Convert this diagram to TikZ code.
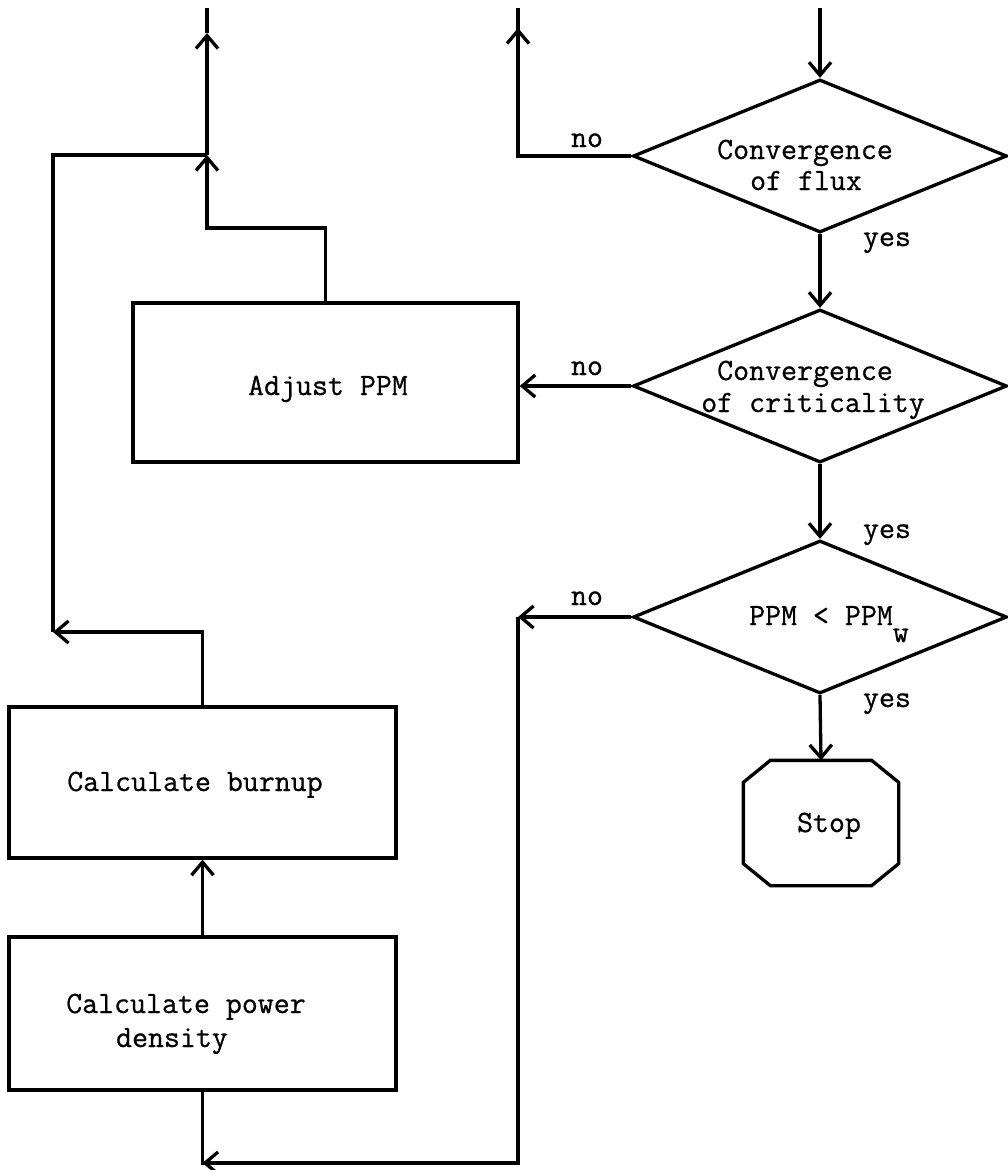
\documentclass[tikz,border=0pt]{standalone}
\usepackage{fontspec}
\setmonofont{Latin Modern Mono}[FakeBold=0.7]
\usetikzlibrary{arrows.meta,calc,shapes.geometric}
\begin{document}
\begin{tikzpicture}[x=1pt,y=-1pt, line width=3.3pt, line join=miter,
  every node/.style={font=\fontsize{31}{34}\selectfont\ttfamily},
  arr/.style={-{Straight Barb[length=13pt,width=22pt]}},
  box/.style={draw, rectangle, inner sep=0pt},
  dia/.style={draw, diamond, minimum width=374pt, minimum height=153pt, inner sep=0pt},
  lab/.style={anchor=base, inner sep=0pt}]
\useasboundingbox (0,0) rectangle (1008,1170);

% decision diamonds
\node[dia] (d1) at (820,156) {};
\node[dia] (d2) at (820,386) {};
\node[dia] (d3) at (820,617) {};
\node[lab] (d1a) at (805,159) {Convergence};
\node[lab] (d1b) at (806,190) {of flux};
\node[lab] (d2a) at (805,380) {Convergence};
\node[lab] (d2b) at (813,412) {of criticality};
\node[lab] (d3a) at (829,625) {PPM < PPM\raisebox{-17pt}{w}};

% process boxes
\node[box, minimum width=385pt, minimum height=159pt] (adj) at (325.5,382.5) {};
\node[lab] (adjt) at (328,395) {Adjust PPM};
\node[box, minimum width=387pt, minimum height=151pt] (burn) at (202.5,782.5) {};
\node[lab] (burnt) at (195,791) {Calculate burnup};
\node[box, minimum width=387pt, minimum height=153pt] (pow) at (202.5,1013.5) {};
\node[lab] (powa) at (186,1013) {Calculate power};
\node[lab] (powb) at (172,1047) {density};

% stop terminal
\node[minimum width=152pt, minimum height=122pt, inner sep=0pt] (stop) at (821,823) {};
\draw ($(stop.north west)+(27,0)$) -- ($(stop.north east)+(-27,0)$)
  -- ($(stop.north east)+(0,22)$) -- ($(stop.south east)+(0,-22)$)
  -- ($(stop.south east)+(-27,0)$) -- ($(stop.south west)+(27,0)$)
  -- ($(stop.south west)+(0,-22)$) -- ($(stop.north west)+(0,22)$) -- cycle;
\node[lab] (stopt) at (829,832) {Stop};

% main flow
\coordinate (in) at (820,8);
\draw[arr] (in) -- (d1.north);
\draw[arr] (d1.south) -- (d2.north);
\draw[arr] (d2.south) -- (d3.north);
\draw[arr] (d3.south) -- (stop.north);
\node[lab] (y1) at (887,246) {yes};
\node[lab] (y2) at (887,538) {yes};
\node[lab] (y3) at (887,707) {yes};

% no of flux
\coordinate (n1c) at (518,156);
\coordinate (n1a) at (518,28);
\coordinate (n1t) at (518,8);
\draw (d1.west) -- (n1c) -- (n1t);
\draw[arr] (n1c) -- (n1a);
\node[lab] (no1) at (587,147) {no};

% no of criticality
\draw[arr] (d2.west) -- (d2.west -| adj.east);
\node[lab] (no2) at (587,375) {no};

% no of PPM test
\coordinate (c3) at (518,617);
\coordinate (c4) at (518,1163);
\coordinate (c5) at (pow.south |- c4);
\draw[arr] (d3.west) -- (c3);
\draw (c3) -- (c4) -- (c5) -- (pow.south);
\draw[arr] (c4) -- (c5);
\node[lab] (no3) at (587,605) {no};

% left loop
\draw[arr] (pow.north) -- (burn.south);
\coordinate (b2) at (53,632);
\coordinate (b3) at (53,155);
\coordinate (j) at (207,155);
\draw[arr] (burn.north) -- (burn.north |- b2) -- (b2);
\draw (b2) -- (b3) -- (j);
\coordinate (ak) at (207,228);
\draw[arr] (adj.north) -- (adj.north |- ak) -- (ak) -- (j);
\coordinate (top1) at (207,33);
\coordinate (topend) at (207,8);
\draw[arr] (j) -- (top1);
\draw (top1) -- (topend);
\end{tikzpicture}
\end{document}
